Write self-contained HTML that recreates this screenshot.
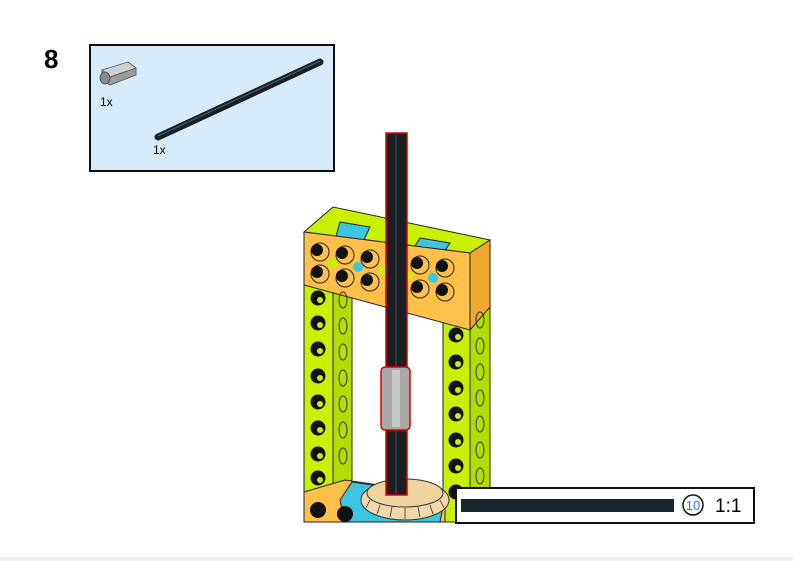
<!DOCTYPE html>
<html><head><meta charset="utf-8"><style>
html,body{margin:0;padding:0;background:#fff;}
svg{display:block;}
text{font-family:"Liberation Sans",sans-serif;}
</style></head><body>
<svg width="793" height="561" viewBox="0 0 793 561" xmlns="http://www.w3.org/2000/svg">
<rect width="793" height="561" fill="#fff"/>
<rect x="0" y="557" width="793" height="4" fill="#f0f0f0"/>
<text x="44" y="68" font-size="26" font-weight="bold">8</text>
<rect x="90" y="45" width="244" height="126" fill="#d6ebfa" stroke="#111" stroke-width="2"/>
<g>
<polygon points="102,70 128,62 136,68 110,77" fill="#d0d0d0" stroke="#555" stroke-width="0.8"/>
<polygon points="102,70 110,77 136,68 136,75 110,85 102,80" fill="#9c9c9c" stroke="#555" stroke-width="0.8"/>
<ellipse cx="105" cy="78" rx="5" ry="6" fill="#888" stroke="#444" stroke-width="0.8"/>
</g>
<text x="100" y="106" font-size="12">1x</text>
<line x1="158" y1="137" x2="320" y2="62" stroke="#1a1f24" stroke-width="7" stroke-linecap="round"/>
<line x1="158" y1="136" x2="320" y2="61" stroke="#56606a" stroke-width="1"/>
<text x="153" y="154" font-size="12">1x</text>
<g stroke="#222" stroke-width="1">
<polygon points="304,285 333,285 333,492 304,492" fill="#c8f000"/>
<polygon points="333,278 352,268 352,480 333,492" fill="#b4dc00"/>
<polygon points="443,320 470,330 470,522 443,522" fill="#c8f000"/>
<polygon points="470,300 490,290 490,522 470,522" fill="#b4dc00"/>
<polygon points="304,492 345,480 445,495 445,522 304,522" fill="#ffc04a"/>
<polygon points="340,500 352,482 445,496 440,522 345,522" fill="#3cc4e0"/>
<polygon points="304,232 333,207 490,240 470,253" fill="#c8f000"/>
<polygon points="340,222 370,227 362,244 335,240" fill="#3cc4e0"/>
<polygon points="420,238 450,243 440,258 410,254" fill="#3cc4e0"/>
<polygon points="304,232 470,253 470,330 304,285" fill="#ffc04a"/>
<polygon points="470,253 490,240 490,307 470,330" fill="#f0a830"/>
</g>
<g fill="#ffc04a" stroke="#222" stroke-width="1">
<circle cx="320" cy="252" r="9"/><circle cx="345" cy="255" r="9"/><circle cx="370" cy="259" r="9"/><circle cx="420" cy="265" r="9"/><circle cx="445" cy="268" r="9"/>
<circle cx="320" cy="274" r="9"/><circle cx="345" cy="278" r="9"/><circle cx="370" cy="282" r="9"/><circle cx="420" cy="289" r="9"/><circle cx="445" cy="292" r="9"/>
</g>
<g fill="#111">
<circle cx="317" cy="250" r="6"/><circle cx="342" cy="253" r="6"/><circle cx="367" cy="257" r="6"/><circle cx="417" cy="263" r="6"/><circle cx="442" cy="266" r="6"/>
<circle cx="317" cy="272" r="6"/><circle cx="342" cy="276" r="6"/><circle cx="367" cy="280" r="6"/><circle cx="417" cy="287" r="6"/><circle cx="442" cy="290" r="6"/>
<circle cx="332" cy="263" r="5" fill="#c8f000"/><circle cx="358" cy="267" r="5" fill="#3cc4e0"/><circle cx="383" cy="271" r="5" fill="#c8f000"/><circle cx="408" cy="275" r="5" fill="#c8f000"/><circle cx="433" cy="278" r="5" fill="#3cc4e0"/>
</g>
<g fill="#111" stroke="#111">
<circle cx="318" cy="298" r="7"/><circle cx="318" cy="323" r="7"/><circle cx="318" cy="349" r="7"/><circle cx="318" cy="376" r="7"/><circle cx="318" cy="402" r="7"/><circle cx="318" cy="428" r="7"/><circle cx="318" cy="454" r="7"/><circle cx="318" cy="478" r="7"/>
<circle cx="456" cy="335" r="7"/><circle cx="456" cy="362" r="7"/><circle cx="456" cy="388" r="7"/><circle cx="456" cy="414" r="7"/><circle cx="456" cy="440" r="7"/><circle cx="456" cy="466" r="7"/><circle cx="456" cy="492" r="7"/>
</g>
<g fill="#c8f000">
<circle cx="320" cy="300" r="3"/><circle cx="320" cy="325" r="3"/><circle cx="320" cy="351" r="3"/><circle cx="320" cy="378" r="3"/><circle cx="320" cy="404" r="3"/><circle cx="320" cy="430" r="3"/><circle cx="320" cy="456" r="3"/><circle cx="320" cy="480" r="3"/>
<circle cx="458" cy="337" r="3"/><circle cx="458" cy="364" r="3"/><circle cx="458" cy="390" r="3"/><circle cx="458" cy="416" r="3"/><circle cx="458" cy="442" r="3"/><circle cx="458" cy="468" r="3"/>
</g>
<g fill="none" stroke="#333" stroke-width="1">
<ellipse cx="343" cy="300" rx="4" ry="8"/><ellipse cx="343" cy="326" rx="4" ry="8"/><ellipse cx="343" cy="352" rx="4" ry="8"/><ellipse cx="343" cy="378" rx="4" ry="8"/><ellipse cx="343" cy="404" rx="4" ry="8"/><ellipse cx="343" cy="430" rx="4" ry="8"/><ellipse cx="343" cy="456" rx="4" ry="8"/>
<ellipse cx="480" cy="320" rx="4" ry="8"/><ellipse cx="480" cy="346" rx="4" ry="8"/><ellipse cx="480" cy="372" rx="4" ry="8"/><ellipse cx="480" cy="398" rx="4" ry="8"/><ellipse cx="480" cy="424" rx="4" ry="8"/><ellipse cx="480" cy="450" rx="4" ry="8"/><ellipse cx="480" cy="476" rx="4" ry="8"/>
</g>
<g fill="#111"><circle cx="318" cy="510" r="8"/><circle cx="345" cy="514" r="8"/></g>
<ellipse cx="405" cy="500" rx="44" ry="20" fill="#f2d8a8" stroke="#333"/>
<ellipse cx="405" cy="493" rx="38" ry="14" fill="#f0d4a0" stroke="#333"/>
<g stroke="#333" stroke-width="0.8">
<line x1="370" y1="500" x2="366" y2="508"/><line x1="380" y1="505" x2="377" y2="514"/><line x1="392" y1="507" x2="390" y2="517"/><line x1="405" y1="508" x2="405" y2="519"/><line x1="418" y1="507" x2="420" y2="517"/><line x1="430" y1="505" x2="433" y2="514"/><line x1="440" y1="500" x2="444" y2="508"/>
</g>
<rect x="386" y="133" width="21" height="362" fill="#1a1f24" stroke="#d00" stroke-width="1.5"/>
<line x1="396" y1="135" x2="396" y2="494" stroke="#4a545e"/>
<rect x="381" y="367" width="29" height="63" rx="4" fill="#a8a8a8" stroke="#d00" stroke-width="1.5"/>
<rect x="392" y="370" width="8" height="57" fill="#c8c8c8"/>
<rect x="456" y="488" width="298" height="35" fill="#fff" stroke="#111" stroke-width="2"/>
<rect x="461" y="499" width="213" height="13" fill="#1a252e"/>
<circle cx="693" cy="505" r="10" fill="#fff" stroke="#111" stroke-width="1.5"/>
<text x="693" y="510" font-size="13" fill="#2a80d0" text-anchor="middle">10</text>
<text x="715" y="512" font-size="19">1:1</text>
</svg>
</body></html>
